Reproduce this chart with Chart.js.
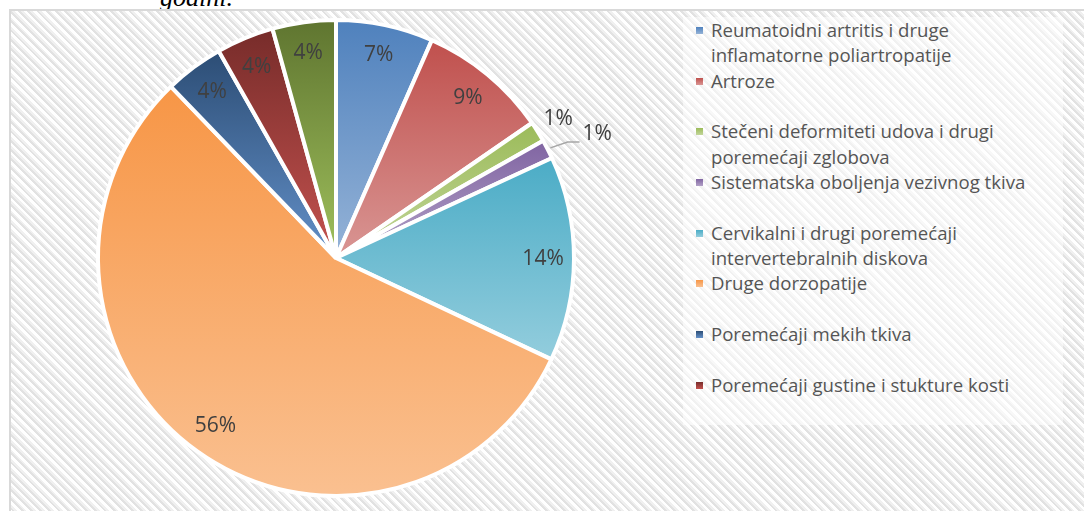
<!DOCTYPE html>
<html lang="sr">
<head>
    <meta charset="UTF-8">
    <title>Bolesti mišićno-koštanog sistema</title>
    <style>
        body {
            margin: 0;
            width: 1084px;
            height: 511px;
            overflow: hidden;
            position: relative;
            background: #fff;
            font-family: "Open Sans", Lato, sans-serif;
        }
        #caption {
            position: absolute;
            left: 160px;
            top: -15px;
            font: italic 26px/26px "Liberation Serif", serif;
            color: #000;
            white-space: nowrap;
        }
        #frame {
            position: absolute;
            left: 9px;
            top: 9px;
            width: 1100px;
            height: 530px;
            border-left: 2px solid #d9d9d9;
            border-top: 2px solid #d9d9d9;
            background: repeating-linear-gradient(45deg, #ffffff 0 2.5px, #e2e2e2 2.5px 4.5px, #f0f0f0 4.5px 6.5px);
        }
        #legendBox {
            position: absolute;
            left: 683px;
            top: 17px;
            width: 380px;
            height: 408px;
            background: rgba(255, 255, 255, 0.5);
            overflow: hidden;
        }
        .item {
            position: relative;
            height: 50.7px;
            padding-left: 28px;
            font-size: 18.6px;
            line-height: 25.3px;
            color: #555;
            white-space: nowrap;
        }
        .item .box {
            position: absolute;
            left: 13px;
            top: 10px;
            width: 7px;
            height: 7px;
        }
        canvas {
            position: absolute;
            left: 0;
            top: 0;
        }
    </style>
</head>
<body>
    <div id="caption">godini.</div>
    <div id="frame"></div>
    <div id="legendBox"></div>
    <canvas id="pieChart" width="1084" height="511"></canvas>

    <script src="https://cdn.jsdelivr.net/npm/chart.js"></script>
    <script>
        // categories and shares (%)
        const labels = [
            'Reumatoidni artritis i druge inflamatorne poliartropatije',
            'Artroze',
            'Stečeni deformiteti udova i drugi poremećaji zglobova',
            'Sistematska oboljenja vezivnog tkiva',
            'Cervikalni i drugi poremećaji intervertebralnih diskova',
            'Druge dorzopatije',
            'Poremećaji mekih tkiva',
            'Poremećaji gustine i stukture kosti',
            'Ostale bolesti'
        ];
        // legend text broken into lines the way the original wraps it
        const legendLines = [
            ['Reumatoidni artritis i druge', 'inflamatorne poliartropatije'],
            ['Artroze'],
            ['Stečeni deformiteti udova i drugi', 'poremećaji zglobova'],
            ['Sistematska oboljenja vezivnog tkiva'],
            ['Cervikalni i drugi poremećaji', 'intervertebralnih diskova'],
            ['Druge dorzopatije'],
            ['Poremećaji mekih tkiva'],
            ['Poremećaji gustine i stukture kosti'],
            ['Ostale bolesti']
        ];
        const shares = [6.6, 8.8, 1.4, 1.3, 13.9, 55.8, 4.0, 3.9, 4.3];

        // gradient stops, top colour then bottom colour
        const topColors = ['#4f81bd', '#c0504d', '#9bbb59', '#8064a2', '#4bacc6', '#f79646', '#2c4d75', '#772c2a', '#5f7530'];
        const bottomColors = ['#95b3d7', '#d99694', '#c3d69b', '#b3a2c7', '#93cddd', '#fac090', '#6390c8', '#c4524f', '#9fc05c'];

        const BORDER = 4;
        const total = shares.reduce((a, b) => a + b, 0);

        // vertical gradient spanning each slice, like the Office fill
        function sliceGradient(context) {
            const chart = context.chart;
            const area = chart.chartArea;
            const i = context.dataIndex;
            if (!area || i === undefined) return topColors[i || 0];
            const cx = (area.left + area.right) / 2;
            const cy = (area.top + area.bottom) / 2;
            const r = (Math.min(area.width, area.height) - BORDER) / 2;
            let before = 0;
            for (let k = 0; k < i; k++) before += shares[k];
            const a0 = before / total * 2 * Math.PI - Math.PI / 2;
            const a1 = (before + shares[i]) / total * 2 * Math.PI - Math.PI / 2;
            const ys = [cy, cy + r * Math.sin(a0), cy + r * Math.sin(a1)];
            const within = (a) => {
                for (let t = a; t < a1 + 2 * Math.PI; t += 2 * Math.PI) {
                    if (t >= a0 && t <= a1) return true;
                }
                return false;
            };
            if (within(-Math.PI / 2)) ys.push(cy - r);
            if (within(Math.PI / 2)) ys.push(cy + r);
            const g = chart.ctx.createLinearGradient(0, Math.min(...ys), 0, Math.max(...ys));
            g.addColorStop(0, topColors[i]);
            g.addColorStop(1, bottomColors[i]);
            return g;
        }

        // percentage labels drawn on/around the slices
        const sliceLabels = {
            id: 'sliceLabels',
            afterDatasetsDraw(chart) {
                const ctx = chart.ctx;
                const arcs = chart.getDatasetMeta(0).data;
                let smallCount = 0;
                ctx.save();
                ctx.font = '21px "Open Sans", Lato, sans-serif';
                ctx.fillStyle = '#404040';
                ctx.textBaseline = 'middle';
                arcs.forEach((arc, i) => {
                    const p = arc.getProps(['x', 'y', 'startAngle', 'endAngle', 'outerRadius'], true);
                    const mid = (p.startAngle + p.endAngle) / 2;
                    const text = Math.round(shares[i] / total * 100) + '%';
                    if (shares[i] >= 2) {
                        const rr = p.outerRadius * 0.87;
                        ctx.textAlign = 'center';
                        ctx.fillText(text, p.x + rr * Math.cos(mid), p.y + rr * Math.sin(mid));
                    } else if (smallCount++ === 0) {
                        const rr = p.outerRadius + 24;
                        ctx.textAlign = 'center';
                        ctx.fillText(text, p.x + rr * Math.cos(mid), p.y + rr * Math.sin(mid));
                    } else {
                        const sx = p.x + (p.outerRadius + 3) * Math.cos(mid);
                        const sy = p.y + (p.outerRadius + 3) * Math.sin(mid);
                        const ex = p.x + (p.outerRadius + 21) * Math.cos(mid + 0.01);
                        const ey = p.y + (p.outerRadius + 21) * Math.sin(mid + 0.01);
                        ctx.strokeStyle = '#a6a6a6';
                        ctx.lineWidth = 1.5;
                        ctx.beginPath();
                        ctx.moveTo(sx, sy);
                        ctx.lineTo(ex, ey);
                        ctx.lineTo(ex + 12, ey);
                        ctx.stroke();
                        ctx.textAlign = 'left';
                        ctx.fillText(text, ex + 15, ey - 8);
                    }
                });
                ctx.restore();
            }
        };

        const chart = new Chart(document.getElementById('pieChart'), {
            type: 'pie',
            data: {
                labels: labels,
                datasets: [{
                    data: shares,
                    backgroundColor: sliceGradient,
                    borderColor: '#ffffff',
                    borderWidth: BORDER,
                    hoverBorderWidth: BORDER
                }]
            },
            plugins: [sliceLabels],
            options: {
                responsive: false,
                animation: false,
                events: [],
                layout: { padding: { left: 96, right: 508, top: 18, bottom: 13 } },
                plugins: {
                    legend: { display: false },
                    tooltip: { enabled: false }
                }
            }
        });

        // legend built next to the pie, clipped like the original box
        const legendBox = document.getElementById('legendBox');
        legendLines.forEach((lines, i) => {
            const item = document.createElement('div');
            item.className = 'item';
            const box = document.createElement('span');
            box.className = 'box';
            box.style.background = `linear-gradient(${topColors[i]}, ${bottomColors[i]})`;
            item.appendChild(box);
            lines.forEach((line, j) => {
                if (j > 0) item.appendChild(document.createElement('br'));
                item.appendChild(document.createTextNode(line));
            });
            legendBox.appendChild(item);
        });
    </script>
</body>
</html>
